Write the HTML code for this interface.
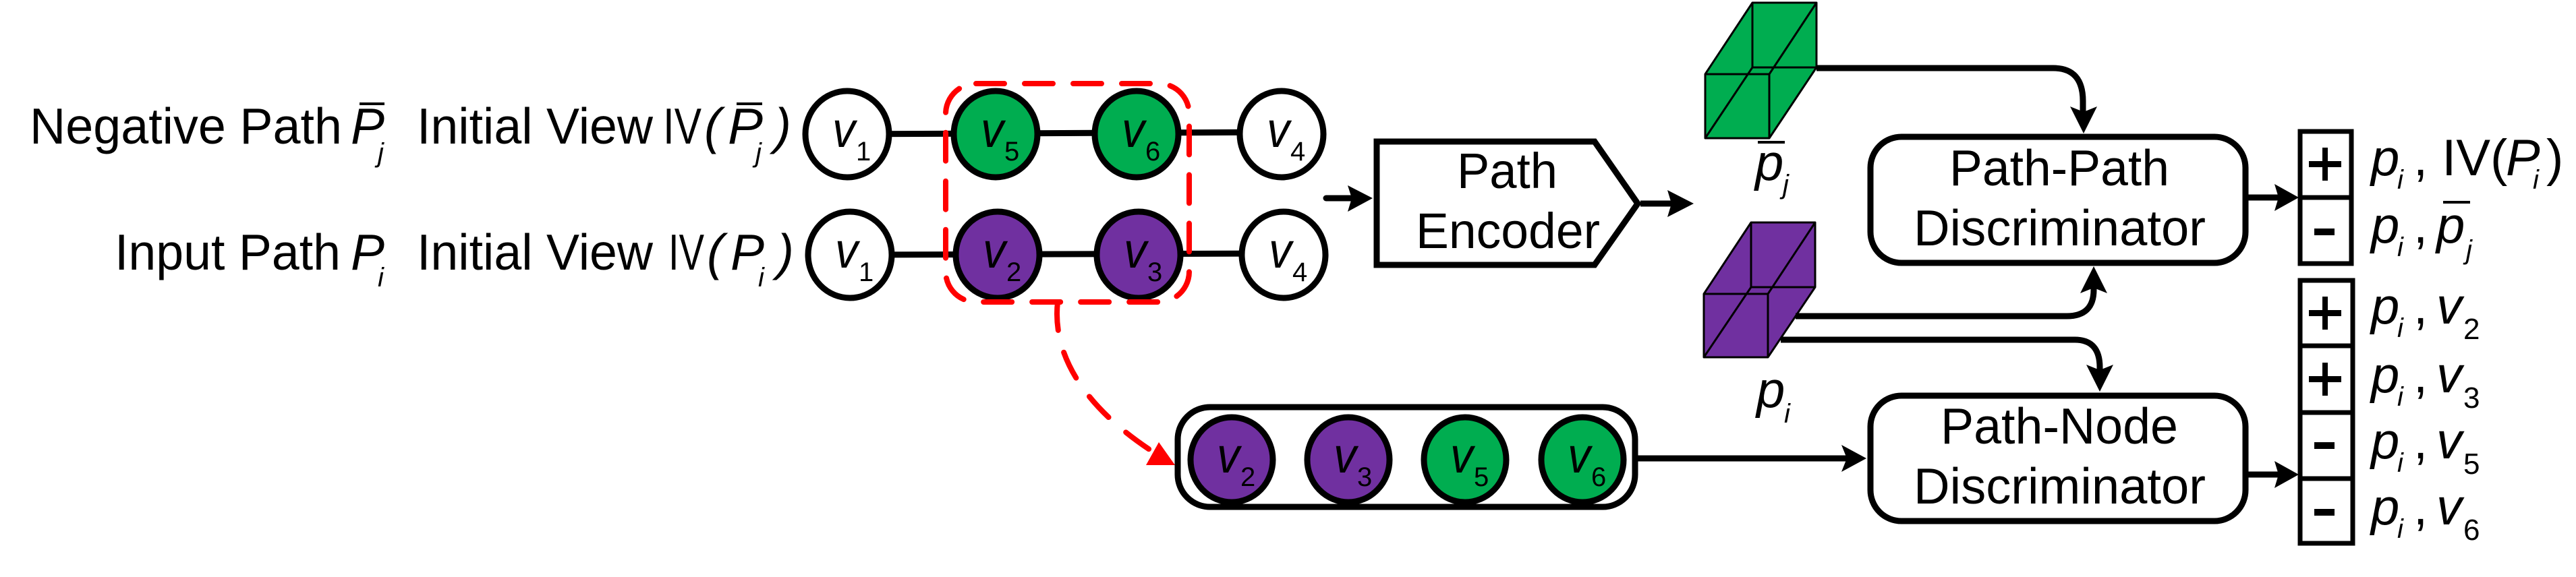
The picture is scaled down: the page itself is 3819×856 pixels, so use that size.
<!DOCTYPE html>
<html><head><meta charset="utf-8"><style>
html,body{margin:0;padding:0;background:#fff;}
svg{display:block;}
text{font-family:"Liberation Sans",Arial,sans-serif;fill:#000;}
.it{font-style:italic;}
</style></head><body>
<svg width="3819" height="856" viewBox="0 0 3819 856" xmlns="http://www.w3.org/2000/svg">

<!-- Left labels -->
<g font-size="75">
<text x="44" y="213" textLength="463" lengthAdjust="spacingAndGlyphs">Negative Path</text>
<text x="520" y="213" class="it" textLength="50" lengthAdjust="spacingAndGlyphs">P</text>
<line x1="533" y1="154" x2="570" y2="154" stroke="#000" stroke-width="4"/>
<text x="560" y="240" class="it" font-size="40">j</text>
<text x="618" y="213" textLength="350" lengthAdjust="spacingAndGlyphs">Initial View</text>
<text x="983" y="213" textLength="57" lengthAdjust="spacingAndGlyphs">IV</text>
<text x="1044" y="213" class="it">(</text>
<text x="1079" y="213" class="it" textLength="52" lengthAdjust="spacingAndGlyphs">P</text>
<line x1="1092" y1="154" x2="1130" y2="154" stroke="#000" stroke-width="4"/>
<text x="1120" y="240" class="it" font-size="40">j</text>
<text x="1148" y="213" class="it">)</text>

<text x="170" y="400" textLength="335" lengthAdjust="spacingAndGlyphs">Input Path</text>
<text x="520" y="400" class="it" textLength="50" lengthAdjust="spacingAndGlyphs">P</text>
<text x="560" y="425" class="it" font-size="40">i</text>
<text x="618" y="400" textLength="350" lengthAdjust="spacingAndGlyphs">Initial View</text>
<text x="991" y="400" textLength="53" lengthAdjust="spacingAndGlyphs">IV</text>
<text x="1048" y="400" class="it">(</text>
<text x="1083" y="400" class="it" textLength="50" lengthAdjust="spacingAndGlyphs">P</text>
<text x="1124" y="425" class="it" font-size="40">i</text>
<text x="1152" y="400" class="it">)</text>
</g>

<!-- node chains -->
<g stroke="#000" stroke-width="9">
<line x1="1256" y1="199" x2="1900" y2="196"/>
<line x1="1260" y1="378" x2="1903" y2="376"/>
</g>
<g stroke="#000" stroke-width="9">
<ellipse cx="1256" cy="199" rx="62" ry="64" fill="#fff"/>
<ellipse cx="1476" cy="199" rx="62" ry="64" fill="#00ad50"/>
<ellipse cx="1685" cy="199" rx="62" ry="64" fill="#00ad50"/>
<ellipse cx="1900" cy="199" rx="62" ry="64" fill="#fff"/>
<ellipse cx="1260" cy="378" rx="62" ry="64" fill="#fff"/>
<ellipse cx="1479" cy="378" rx="62" ry="64" fill="#7030a0"/>
<ellipse cx="1688" cy="378" rx="62" ry="64" fill="#7030a0"/>
<ellipse cx="1903" cy="378" rx="62" ry="64" fill="#fff"/>
</g>
<g font-size="74">
<text x="1234" y="218" class="it" textLength="34" lengthAdjust="spacingAndGlyphs">v</text><text x="1269" y="238" font-size="40">1</text>
<text x="1454" y="218" class="it" textLength="34" lengthAdjust="spacingAndGlyphs">v</text><text x="1489" y="238" font-size="40">5</text>
<text x="1663" y="218" class="it" textLength="34" lengthAdjust="spacingAndGlyphs">v</text><text x="1698" y="238" font-size="40">6</text>
<text x="1878" y="218" class="it" textLength="34" lengthAdjust="spacingAndGlyphs">v</text><text x="1913" y="238" font-size="40">4</text>
<text x="1238" y="397" class="it" textLength="34" lengthAdjust="spacingAndGlyphs">v</text><text x="1273" y="417" font-size="40">1</text>
<text x="1457" y="397" class="it" textLength="34" lengthAdjust="spacingAndGlyphs">v</text><text x="1492" y="417" font-size="40">2</text>
<text x="1666" y="397" class="it" textLength="34" lengthAdjust="spacingAndGlyphs">v</text><text x="1701" y="417" font-size="40">3</text>
<text x="1881" y="397" class="it" textLength="34" lengthAdjust="spacingAndGlyphs">v</text><text x="1916" y="417" font-size="40">4</text>
</g>

<!-- red dashed box and curve -->
<rect x="1402" y="124" width="361" height="324" rx="45" ry="45" fill="none" stroke="#ff0000" stroke-width="8" stroke-dasharray="42 30" stroke-linecap="round"/>
<path d="M1568,448 C1560,520 1600,600 1712,672" fill="none" stroke="#ff0000" stroke-width="8" stroke-dasharray="42 34" stroke-linecap="round"/>
<polygon points="1742,690 1699,690 1718,656" fill="#ff0000"/>

<!-- bottom node group -->
<rect x="1746" y="604" width="678" height="148" rx="48" ry="48" fill="#fff" stroke="#000" stroke-width="9"/>
<g stroke="#000" stroke-width="9">
<ellipse cx="1826" cy="682" rx="61" ry="63" fill="#7030a0"/>
<ellipse cx="1999" cy="682" rx="61" ry="63" fill="#7030a0"/>
<ellipse cx="2172" cy="682" rx="61" ry="63" fill="#00ad50"/>
<ellipse cx="2346" cy="682" rx="61" ry="63" fill="#00ad50"/>
</g>
<g font-size="74">
<text x="1804" y="701" class="it" textLength="34" lengthAdjust="spacingAndGlyphs">v</text><text x="1839" y="721" font-size="40">2</text>
<text x="1977" y="701" class="it" textLength="34" lengthAdjust="spacingAndGlyphs">v</text><text x="2012" y="721" font-size="40">3</text>
<text x="2150" y="701" class="it" textLength="34" lengthAdjust="spacingAndGlyphs">v</text><text x="2185" y="721" font-size="40">5</text>
<text x="2324" y="701" class="it" textLength="34" lengthAdjust="spacingAndGlyphs">v</text><text x="2359" y="721" font-size="40">6</text>
</g>

<!-- Path encoder -->
<polygon points="2041,210 2364,210 2428,302 2364,393 2041,393" fill="#fff" stroke="#000" stroke-width="9" stroke-linejoin="miter"/>
<g font-size="74">
<text x="2160" y="279" textLength="149" lengthAdjust="spacingAndGlyphs">Path</text>
<text x="2099" y="368" textLength="273" lengthAdjust="spacingAndGlyphs">Encoder</text>
</g>
<line x1="1966" y1="294" x2="2010" y2="294" stroke="#000" stroke-width="9" stroke-linecap="round"/>
<polygon points="2035,294 1998,275 2004,294 1998,314" fill="#000"/>
<line x1="2432" y1="302" x2="2485" y2="302" stroke="#000" stroke-width="9"/>
<polygon points="2511,302 2472,282 2478,302 2472,322" fill="#000"/>

<!-- cuboids -->
<g stroke="#000" stroke-width="3" stroke-linejoin="round">
<polygon points="2528,110 2598,4 2693,4 2693,100 2623,205 2528,205" fill="#00ad50"/>
<line x1="2528" y1="110" x2="2623" y2="110"/><line x1="2623" y1="110" x2="2623" y2="205"/>
<line x1="2623" y1="110" x2="2693" y2="4"/>
<line x1="2598" y1="4" x2="2598" y2="100"/><line x1="2598" y1="100" x2="2693" y2="100"/>
<line x1="2528" y1="205" x2="2598" y2="100"/>
<polygon points="2526,436 2596,330 2691,330 2691,426 2621,530 2526,530" fill="#7030a0"/>
<line x1="2526" y1="436" x2="2621" y2="436"/><line x1="2621" y1="436" x2="2621" y2="530"/>
<line x1="2621" y1="436" x2="2691" y2="330"/>
<line x1="2596" y1="330" x2="2596" y2="426"/><line x1="2596" y1="426" x2="2691" y2="426"/>
<line x1="2526" y1="530" x2="2596" y2="426"/>
</g>
<g font-size="76">
<text x="2602" y="267" class="it">p</text>
<line x1="2606" y1="211" x2="2646" y2="211" stroke="#000" stroke-width="4"/>
<text x="2643" y="287" class="it" font-size="40">j</text>
<text x="2604" y="604" class="it">p</text>
<text x="2645" y="627" class="it" font-size="40">i</text>
</g>

<!-- connectors -->
<g fill="none" stroke="#000" stroke-width="9">
<path d="M2693,101 H3044 Q3088,101 3088,150 V168"/>
<path d="M2662,469 H3064 Q3104,469 3104,430 V420"/>
<path d="M2640,504 H3076 Q3113,504 3113,545 V555"/>
<line x1="2428" y1="680" x2="2740" y2="680"/>
<line x1="3331" y1="293" x2="3380" y2="293"/>
<line x1="3331" y1="704" x2="3380" y2="704"/>
</g>
<polygon points="3089,198 3069,158 3089,166 3109,158" fill="#000"/>
<polygon points="3104,395 3084,435 3104,427 3124,435" fill="#000"/>
<polygon points="3113,581 3093,541 3113,549 3133,541" fill="#000"/>
<polygon points="2767,680 2730,660 2738,680 2730,700" fill="#000"/>
<polygon points="3408,293 3372,273 3378,293 3372,313" fill="#000"/>
<polygon points="3408,704 3372,684 3378,704 3372,724" fill="#000"/>

<!-- discriminators -->
<rect x="2773" y="203" width="556" height="187" rx="46" ry="46" fill="#fff" stroke="#000" stroke-width="9"/>
<rect x="2773" y="587" width="556" height="186" rx="46" ry="46" fill="#fff" stroke="#000" stroke-width="9"/>
<g font-size="75">
<text x="2890" y="275" textLength="326" lengthAdjust="spacingAndGlyphs">Path-Path</text>
<text x="2837" y="364" textLength="433" lengthAdjust="spacingAndGlyphs">Discriminator</text>
<text x="2877" y="658" textLength="352" lengthAdjust="spacingAndGlyphs">Path-Node</text>
<text x="2837" y="747" textLength="433" lengthAdjust="spacingAndGlyphs">Discriminator</text>
</g>

<!-- sign boxes -->
<g fill="#fff" stroke="#000" stroke-width="7">
<rect x="3410" y="195" width="76" height="196"/>
<line x1="3410" y1="293" x2="3486" y2="293"/>
<rect x="3410" y="416" width="78" height="390"/>
<line x1="3410" y1="513" x2="3488" y2="513"/>
<line x1="3410" y1="612" x2="3488" y2="612"/>
<line x1="3410" y1="710" x2="3488" y2="710"/>
</g>
<g fill="#000">
<rect x="3423" y="239" width="48" height="9"/><rect x="3443" y="219" width="8" height="49"/>
<rect x="3431" y="339" width="30" height="10"/>
<rect x="3423" y="460" width="48" height="9"/><rect x="3443" y="440" width="8" height="49"/>
<rect x="3423" y="558" width="48" height="9"/><rect x="3443" y="538" width="8" height="49"/>
<rect x="3431" y="656" width="30" height="10"/>
<rect x="3431" y="755" width="30" height="10"/>
</g>

<!-- output labels -->
<g font-size="76">
<text x="3515" y="260" class="it">p</text><text x="3554" y="280" class="it" font-size="40">i</text>
<text x="3578" y="260">, IV(</text><text x="3715" y="260" class="it">P</text><text x="3755" y="280" class="it" font-size="40">i</text><text x="3775" y="260">)</text>

<text x="3515" y="360" class="it">p</text><text x="3554" y="380" class="it" font-size="40">i</text>
<text x="3578" y="360">,</text><text x="3612" y="360" class="it">p</text>
<line x1="3622" y1="300" x2="3662" y2="300" stroke="#000" stroke-width="4"/>
<text x="3656" y="384" class="it" font-size="40">j</text>

<text x="3515" y="480" class="it">p</text><text x="3554" y="500" class="it" font-size="40">i</text>
<text x="3578" y="480">,</text><text x="3612" y="480" class="it">v</text><text x="3652" y="503" font-size="44">2</text>

<text x="3515" y="582" class="it">p</text><text x="3554" y="602" class="it" font-size="40">i</text>
<text x="3578" y="582">,</text><text x="3612" y="582" class="it">v</text><text x="3652" y="605" font-size="44">3</text>

<text x="3515" y="680" class="it">p</text><text x="3554" y="700" class="it" font-size="40">i</text>
<text x="3578" y="680">,</text><text x="3612" y="680" class="it">v</text><text x="3652" y="703" font-size="44">5</text>

<text x="3515" y="778" class="it">p</text><text x="3554" y="798" class="it" font-size="40">i</text>
<text x="3578" y="778">,</text><text x="3612" y="778" class="it">v</text><text x="3652" y="801" font-size="44">6</text>
</g>
</svg>
</body></html>
